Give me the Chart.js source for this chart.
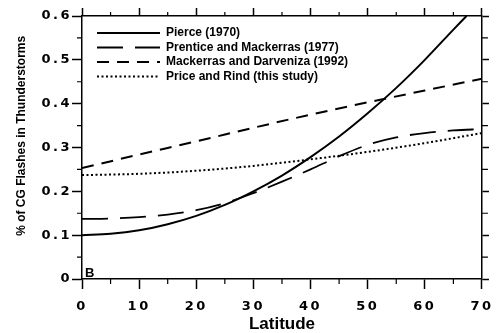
<!DOCTYPE html>
<html>
<head>
<meta charset="utf-8">
<script src="https://cdn.jsdelivr.net/npm/chart.js@4.4.0/dist/chart.umd.min.js"></script>
<style>
    html, body { margin: 0; padding: 0; background: #fff; }
    #wrap { width: 501px; height: 333px; }
</style>
</head>
<body>
<div id="wrap"><canvas id="chart"></canvas></div>
<script>
// values (latitude in degrees, fraction of CG flashes)
const pierceLat = [0, 5, 10, 15, 20, 25, 30, 35, 40, 45, 50, 55, 60, 65, 67.3];
const pierceVals = [0.100, 0.103, 0.111, 0.125, 0.144, 0.169, 0.200, 0.236, 0.278, 0.325, 0.378, 0.436, 0.500, 0.569, 0.600];

const prenticeLat = [0, 5, 10, 15, 20, 25, 30, 35, 40, 45, 50, 55, 60, 65, 70];
const prenticeVals = [0.137, 0.138, 0.141, 0.147, 0.157, 0.173, 0.196, 0.222, 0.250, 0.280, 0.306, 0.323, 0.333, 0.339, 0.342];

const mackerrasLat = [0, 10, 20, 30, 40, 50, 60, 70];
const mackerrasVals = [0.253, 0.284, 0.314, 0.345, 0.375, 0.403, 0.430, 0.457];

const priceLat = [0, 10, 20, 30, 40, 50, 60, 70];
const priceVals = [0.237, 0.240, 0.247, 0.258, 0.273, 0.290, 0.310, 0.333];

const seriesNames = [
    'Pierce (1970)',
    'Prentice and Mackerras (1977)',
    'Mackerras and Darveniza (1992)',
    'Price and Rind (this study)'
];

// axis ranges and tick steps
const xRange = [0, 70];
const yRange = [0, 0.6];
const xMajor = 10, xMinor = 5;
const yMajor = 0.1, yMinor = 0.05;

const tickFont = { family: 'DejaVu Sans', size: 13, weight: 'bold' };
const INK = '#000';

function pts(xs, ys) {
    return xs.map((x, i) => ({ x: x, y: ys[i] }));
}

function minorValues(range, minor, major) {
    const out = [];
    for (let v = range[0] + minor; v < range[1]; v += major) out.push(+v.toFixed(4));
    return out;
}

// minor tick marks, the tick-label letter spacing and the panel letter
const figurePlugin = {
    id: 'figurePlugin',
    beforeDraw(chart) {
        chart.ctx.letterSpacing = '0px';
    },
    afterLayout(chart) {
        // legend sits inside the plot, nudged away from the axes
        chart.legend.left = chart.chartArea.left + 12.5;
        chart.legend.top = chart.chartArea.top + 8.5;
    },
    afterDatasetsDraw(chart) {
        // tick labels are drawn after the datasets (ticks.z = 1), widely spaced
        chart.ctx.letterSpacing = '2.5px';
    },
    afterDraw(chart) {
        const ctx = chart.ctx;
        const s = chart.scales;
        ctx.save();
        ctx.letterSpacing = '0px';
        ctx.strokeStyle = INK;
        ctx.lineWidth = 1.2;
        ctx.beginPath();
        minorValues(xRange, xMinor, xMajor).forEach(v => {
            const p = s.x.getPixelForValue(v);
            ctx.moveTo(p, s.x.top); ctx.lineTo(p, s.x.top + 5);
            const q = s.x2.getPixelForValue(v);
            ctx.moveTo(q, s.x2.bottom); ctx.lineTo(q, s.x2.bottom - 4);
        });
        minorValues(yRange, yMinor, yMajor).forEach(v => {
            const p = s.y.getPixelForValue(v);
            ctx.moveTo(s.y.right, p); ctx.lineTo(s.y.right - 5, p);
            const q = s.y2.getPixelForValue(v);
            ctx.moveTo(s.y2.left, q); ctx.lineTo(s.y2.left + 6, q);
        });
        ctx.stroke();

        ctx.fillStyle = INK;
        ctx.font = 'bold 13px "Liberation Sans"';
        ctx.textBaseline = 'alphabetic';
        ctx.fillText('B', chart.chartArea.left + 3, chart.chartArea.bottom - 2);
        ctx.restore();
    }
};

function makeAxis(extra) {
    return Object.assign({
        type: 'linear',
        border: { display: true, color: INK, width: 1.5 }
    }, extra);
}

const ctx = document.getElementById('chart').getContext('2d');
const chart = new Chart(ctx, {
    type: 'line',
    data: {
        datasets: [
            {
                label: seriesNames[0],
                data: pts(pierceLat, pierceVals),
                borderColor: INK,
                borderWidth: 2,
                borderDash: []
            },
            {
                label: seriesNames[1],
                data: pts(prenticeLat, prenticeVals),
                borderColor: INK,
                borderWidth: 1.8,
                borderDash: [26, 12]
            },
            {
                label: seriesNames[2],
                data: pts(mackerrasLat, mackerrasVals),
                borderColor: INK,
                borderWidth: 2,
                borderDash: [12, 8]
            },
            {
                label: seriesNames[3],
                data: pts(priceLat, priceVals),
                borderColor: INK,
                borderWidth: 2,
                borderDash: [2, 2.5]
            }
        ]
    },
    options: {
        responsive: true,
        maintainAspectRatio: false,
        animation: false,
        layout: { padding: 0 },
        elements: {
            point: { radius: 0 },
            line: { fill: false, tension: 0.4, cubicInterpolationMode: 'monotone', backgroundColor: 'transparent' }
        },
        plugins: {
            tooltip: { enabled: false },
            legend: {
                position: 'chartArea',
                align: 'start',
                labels: {
                    usePointStyle: true,
                    pointStyle: 'line',
                    pointStyleWidth: 63,
                    padding: 2.5,
                    color: INK,
                    font: { family: 'Liberation Sans', size: 12, weight: 'bold' },
                    generateLabels(chart) {
                        // point-style items lose the line dash, so copy it back from the dataset
                        const items = Chart.defaults.plugins.legend.labels.generateLabels(chart);
                        items.forEach(item => {
                            const ds = chart.data.datasets[item.datasetIndex];
                            item.lineDash = ds.borderDash;
                            item.lineWidth = ds.borderWidth;
                            item.strokeStyle = ds.borderColor;
                        });
                        return items;
                    }
                }
            }
        },
        scales: {
            x: makeAxis({
                position: 'bottom',
                min: xRange[0],
                max: xRange[1],
                afterFit(scale) { scale.height = 54; },
                grid: { drawOnChartArea: false, color: INK, tickColor: INK, tickWidth: 1.5, tickLength: 10 },
                ticks: { stepSize: xMajor, color: INK, font: tickFont, padding: 10, z: 1, maxRotation: 0 },
                title: {
                    display: true,
                    text: 'Latitude',
                    color: INK,
                    font: { family: 'Liberation Sans', size: 17, weight: 'bold' },
                    padding: { top: 0, bottom: -1.5 }
                }
            }),
            y: makeAxis({
                position: 'left',
                min: yRange[0],
                max: yRange[1],
                afterFit(scale) { scale.width = 82; },
                grid: { drawOnChartArea: false, color: INK, tickColor: INK, tickWidth: 1.5, tickLength: 10 },
                ticks: {
                    stepSize: yMajor,
                    color: INK,
                    font: tickFont,
                    padding: 0,
                    z: 1,
                    callback: v => (v === 0 ? '0' : v.toFixed(1))
                },
                title: {
                    display: true,
                    text: '       % of CG Flashes in Thunderstorms',
                    color: INK,
                    font: { family: 'Liberation Sans', size: 12, weight: 'bold' },
                    padding: { top: 14, bottom: 0 }
                }
            }),
            x2: makeAxis({
                position: 'top',
                min: xRange[0],
                max: xRange[1],
                afterFit(scale) { scale.height = 16; },
                grid: { drawOnChartArea: false, color: INK, tickColor: INK, tickWidth: 1.5, tickLength: 8 },
                ticks: { stepSize: xMajor, display: false }
            }),
            y2: makeAxis({
                position: 'right',
                min: yRange[0],
                max: yRange[1],
                afterFit(scale) { scale.width = 13; },
                grid: { drawOnChartArea: false, color: INK, tickColor: INK, tickWidth: 1.5, tickLength: 7 },
                ticks: { stepSize: yMajor, display: false }
            })
        }
    },
    plugins: [figurePlugin]
});
</script>
</body>
</html>
